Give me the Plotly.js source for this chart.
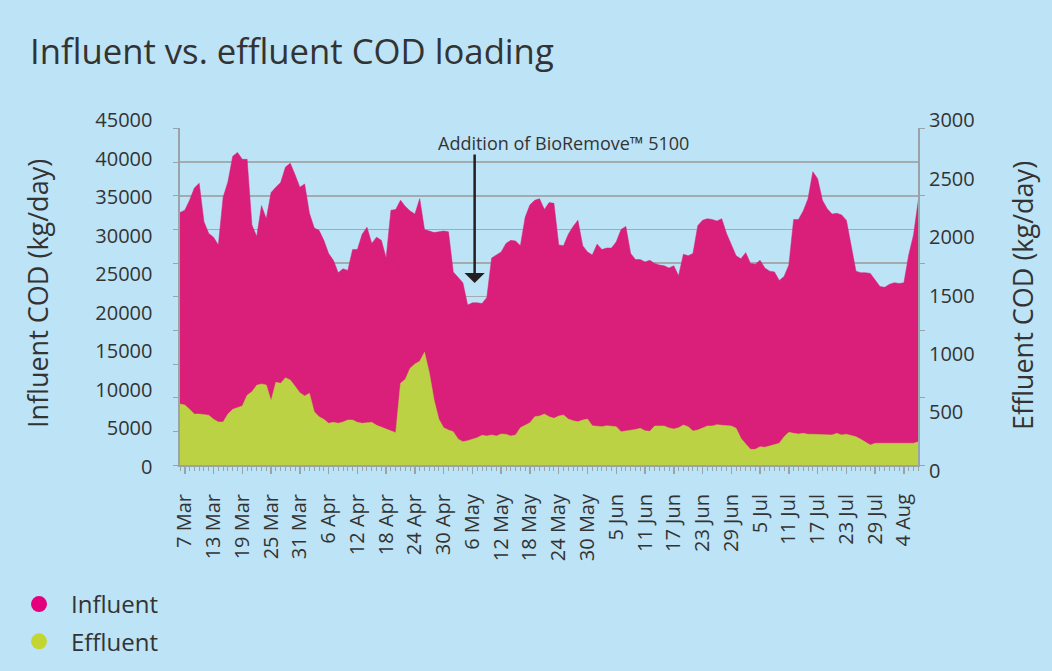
<!DOCTYPE html>
<html>
<head>
<meta charset="utf-8">
<script src="https://cdn.plot.ly/plotly-3.0.1.min.js"></script>
<style>
  html, body { margin: 0; padding: 0; background: #bde3f6; }
  #chart { width: 1052px; height: 671px; }
</style>
</head>
<body>
<div id="chart"></div>
<script>
// ---------------- data ----------------
const startDate = '2010-03-06';   // first daily reading (6 Mar)

// Influent COD (kg/day), one value per day from 6 Mar to 7 Aug
const influent = [
  33000, 33300, 34600, 36200, 36800, 31800, 30300, 29800, 28800, 35000,
  37000, 40300, 40800, 39900, 39900, 31400, 29900, 33900, 32200, 35600,
  36300, 36900, 38900, 39400, 37900, 36300, 36700, 32900, 31000, 30700,
  29400, 27700, 26800, 25200, 25700, 25500, 28200, 28200, 30200, 31100,
  29000, 29800, 29400, 27100, 33300, 33400, 34600, 33800, 33200, 32800,
  34800, 30800, 30600, 30400, 30500, 30600, 30500, 25300, 24600, 23900,
  21000, 21300, 21300, 21200, 22000, 27100, 27500, 27900, 29000, 29400,
  29300, 28700, 32400, 34000, 34600, 34800, 33400, 34300, 34200, 28800,
  28700, 30200, 31200, 32000, 28700, 27900, 27500, 28900, 28200, 28400,
  28400, 29200, 30800, 31200, 27700, 26900, 26900, 26600, 26800, 26400,
  26200, 26100, 25800, 26100, 24800, 27600, 27400, 27700, 31300, 32000,
  32200, 32100, 31900, 32200, 30300, 28800, 27400, 27000, 27800, 26400,
  26300, 26800, 25800, 25400, 25300, 24200, 24700, 26200, 32100, 32100,
  33200, 34800, 38300, 37400, 34600, 33500, 32800, 32900, 32700, 32000,
  28600, 25400, 25200, 25200, 25100, 24200, 23400, 23300, 23700, 23900,
  23800, 23900, 27500, 30100, 34600
];

// Effluent COD (kg/day), same days
const effluent = [
  573, 564, 527, 487, 487, 479, 476, 442, 419, 419,
  487, 527, 541, 556, 647, 678, 733, 744, 735, 601,
  758, 750, 797, 778, 724, 669, 641, 664, 507, 464,
  442, 408, 416, 408, 419, 436, 436, 416, 408, 413,
  416, 391, 376, 356, 344, 327, 750, 784, 878, 915,
  938, 1015, 840, 607, 442, 370, 350, 336, 274, 250,
  259, 272, 285, 305, 299, 308, 299, 316, 314, 299,
  308, 370, 393, 413, 464, 470, 487, 464, 450, 470,
  479, 444, 430, 421, 436, 444, 387, 382, 379, 387,
  385, 379, 336, 342, 344, 355, 365, 344, 339, 385,
  385, 385, 368, 359, 370, 393, 379, 342, 350, 370,
  385, 385, 396, 391, 388, 385, 365, 279, 231, 185,
  185, 208, 203, 214, 231, 237, 293, 331, 322, 316,
  322, 314, 314, 314, 314, 314, 308, 322, 308, 314,
  305, 293, 271, 250, 222, 237, 237, 237, 237, 237,
  237, 237, 237, 237, 250
];

// x-axis tick labels
const tickDates = [
  '2010-03-07','2010-03-13','2010-03-19','2010-03-25','2010-03-31',
  '2010-04-06','2010-04-12','2010-04-18','2010-04-24','2010-04-30',
  '2010-05-06','2010-05-12','2010-05-18','2010-05-24','2010-05-30',
  '2010-06-05','2010-06-11','2010-06-17','2010-06-23','2010-06-29',
  '2010-07-05','2010-07-11','2010-07-17','2010-07-23','2010-07-29',
  '2010-08-04'
];
const tickLabels = [
  '7 Mar','13 Mar','19 Mar','25 Mar','31 Mar',
  '6 Apr','12 Apr','18 Apr','24 Apr','30 Apr',
  '6 May','12 May','18 May','24 May','30 May',
  '5 Jun','11 Jun','17 Jun','23 Jun','29 Jun',
  '5 Jul','11 Jul','17 Jul','23 Jul','29 Jul',
  '4 Aug'
];
const leftTicks  = [0, 5000, 10000, 15000, 20000, 25000, 30000, 35000, 40000, 45000];
const rightTicks = [0, 500, 1000, 1500, 2000, 2500, 3000];

const seriesNames = ['Influent', 'Effluent'];
const annotationText = 'Addition of BioRemove™ 5100';
const annotationDate = '2010-05-06 11:00';
const annotationValue = 23860;

// ---------------- build ----------------
const dates = influent.map((_, i) => {
  const d = new Date(startDate + 'T00:00:00Z');
  d.setUTCDate(d.getUTCDate() + i);
  return d.toISOString().slice(0, 10);
});

const W = 1052, H = 671;
const px = v => v / W;          // horizontal pixel -> paper
const py = v => 1 - v / H;      // vertical pixel -> paper

const TXT = '#333333';
const GRID = '#a3abaf';
const AXIS = '#9aa3a7';
const FONT = 'Open Sans, Noto Sans, DejaVu Sans, sans-serif';

const traces = [
  {
    type: 'scatter', mode: 'lines', x: dates, y: influent,
    xaxis: 'x', yaxis: 'y', fill: 'tozeroy',
    fillcolor: '#d91f7a', line: { color: '#d91f7a', width: 0.5 },
    showlegend: false, hoverinfo: 'skip'
  },
  {
    type: 'scatter', mode: 'lines', x: dates, y: effluent,
    xaxis: 'x', yaxis: 'y2', fill: 'tozeroy',
    fillcolor: '#bcd245', line: { color: '#bcd245', width: 0.5 },
    showlegend: false, hoverinfo: 'skip'
  },
  // legend entries
  {
    type: 'scatter', mode: 'markers', x: [null], y: [null], name: seriesNames[0],
    xaxis: 'x', yaxis: 'y', legendgroup: 'a',
    marker: { color: '#e4007c', size: 20, symbol: 'circle' }, hoverinfo: 'skip'
  },
  {
    type: 'scatter', mode: 'markers', x: [null], y: [null], name: seriesNames[1],
    xaxis: 'x', yaxis: 'y', legendgroup: 'b',
    marker: { color: '#c3d531', size: 20, symbol: 'circle' }, hoverinfo: 'skip'
  },
  // carriers for label axes
  { type: 'scatter', x: [], y: [], xaxis: 'x', yaxis: 'y3', showlegend: false, hoverinfo: 'skip' },
  { type: 'scatter', x: [], y: [], xaxis: 'x', yaxis: 'y4', showlegend: false, hoverinfo: 'skip' }
];

const layout = {
  width: W, height: H,
  margin: { l: 0, r: 0, t: 0, b: 0, pad: 0 },
  paper_bgcolor: '#bde3f6',
  plot_bgcolor: 'rgba(0,0,0,0)',
  font: { family: FONT, color: TXT },
  hovermode: false,
  title: {
    text: 'Influent vs. effluent COD loading',
    x: px(30), xanchor: 'left', xref: 'paper',
    y: py(52), yanchor: 'middle', yref: 'container',
    font: { family: FONT, size: 34.7, color: TXT }
  },
  xaxis: {
    type: 'date',
    domain: [px(180), px(918.3)],
    range: ['2010-03-06', '2010-08-07'],
    anchor: 'y',
    showline: true, linecolor: AXIS, linewidth: 2,
    showgrid: false, zeroline: false,
    tickmode: 'array', tickvals: tickDates, ticktext: tickLabels,
    ticks: 'outside', ticklen: 7, tickwidth: 1.5, tickcolor: AXIS,
    tickangle: -90,
    ticklabelstandoff: 12,
    tickfont: { family: FONT, size: 20, color: TXT },
    minor: { dtick: 86400000, tick0: '2010-03-06', ticks: 'outside', ticklen: 4, tickwidth: 1, tickcolor: AXIS, showgrid: false },
    fixedrange: true
  },
  yaxis: {
    domain: [py(465), py(128.3)],
    range: [259, 43930],
    tick0: 259, dtick: 4366,
    anchor: 'x',
    showgrid: true, gridcolor: GRID, gridwidth: 1.6,
    showticklabels: false,
    ticks: 'outside', ticklen: 5, tickcolor: AXIS,
    showline: true, linecolor: AXIS, linewidth: 2,
    zeroline: false, fixedrange: true
  },
  yaxis2: {
    overlaying: 'y', side: 'right', anchor: 'x',
    range: [51.3, 2930],
    tick0: 51.3, dtick: 575.5,
    showgrid: false, showticklabels: false,
    ticks: 'outside', ticklen: 5, tickcolor: AXIS,
    showline: true, linecolor: AXIS, linewidth: 2,
    zeroline: false, fixedrange: true
  },
  yaxis3: {
    domain: [py(467), py(120)],
    anchor: 'free', position: px(152.5), side: 'left',
    range: [-1, 45001],
    tickmode: 'array', tickvals: leftTicks, ticktext: leftTicks.map(String),
    ticks: '', showline: false, showgrid: false, zeroline: false,
    tickfont: { family: FONT, size: 20, color: TXT },
    title: { text: 'Influent COD (kg/day)', font: { family: FONT, size: 27, color: TXT }, standoff: 37 },
    fixedrange: true
  },
  yaxis4: {
    domain: [py(471), py(120)],
    anchor: 'free', position: px(928), side: 'right',
    range: [-0.1, 3000.1],
    tickmode: 'array', tickvals: rightTicks, ticktext: rightTicks.map(String),
    ticks: '', showline: false, showgrid: false, zeroline: false,
    tickfont: { family: FONT, size: 20, color: TXT },
    title: { text: 'Effluent COD (kg/day)', font: { family: FONT, size: 27, color: TXT }, standoff: 40 },
    fixedrange: true
  },
  showlegend: true,
  legend: {
    x: px(7), xanchor: 'left',
    y: py(582), yanchor: 'top',
    orientation: 'v',
    bgcolor: 'rgba(0,0,0,0)',
    font: { family: FONT, size: 24, color: TXT },
    itemwidth: 54,
    tracegroupgap: 3,
    traceorder: 'grouped'
  },
  annotations: [
    {
      x: px(563), y: py(143), xref: 'paper', yref: 'paper',
      xanchor: 'center', yanchor: 'middle',
      text: annotationText, showarrow: false,
      font: { family: FONT, size: 18, color: TXT }
    },
    {
      x: annotationDate, y: annotationValue, xref: 'x', yref: 'y',
      text: '',
      showarrow: true, arrowhead: 1, arrowsize: 1.35, arrowwidth: 2.5,
      arrowcolor: '#231f20',
      ax: 0, ay: -130
    }
  ]
};

Plotly.newPlot('chart', traces, layout, { displayModeBar: false, staticPlot: true });
</script>
</body>
</html>
